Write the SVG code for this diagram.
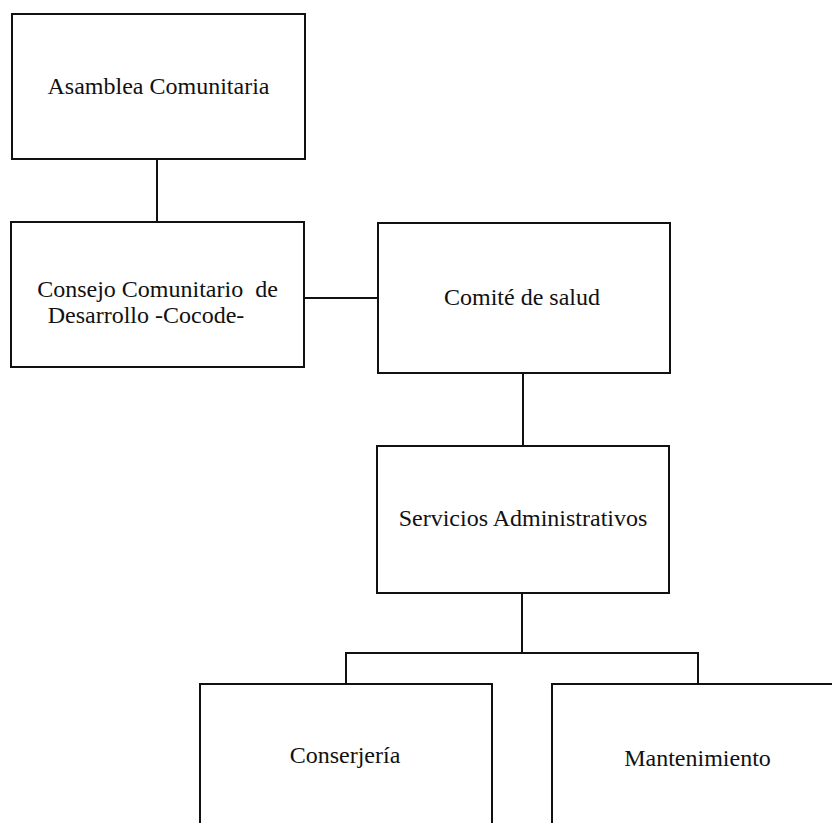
<svg xmlns="http://www.w3.org/2000/svg" width="832" height="823" viewBox="0 0 832 823">
<style>
.box{fill:#fff;stroke:#111;stroke-width:2}
.ln{fill:none;stroke:#111;stroke-width:2}
text{font-family:"Liberation Serif","Times New Roman",serif;font-size:24px;fill:#111;text-anchor:middle}
</style>
<rect width="832" height="823" fill="#fff"/>
<g id="connectors">
<line class="ln" x1="157" y1="159" x2="157" y2="222"/>
<line class="ln" x1="304" y1="298" x2="378" y2="298"/>
<line class="ln" x1="523" y1="373" x2="523" y2="446"/>
<line class="ln" x1="522" y1="593" x2="522" y2="653"/>
<polyline class="ln" points="346,684 346,653 698,653 698,684"/>
</g>
<g id="asamblea">
<rect class="box" x="12" y="14" width="293" height="145"/>
<text x="158.5" y="94">Asamblea Comunitaria</text>
</g>
<g id="cocode">
<rect class="box" x="11" y="222" width="293" height="145"/>
<text x="157.5" y="297" xml:space="preserve">Consejo Comunitario  de</text>
<text x="146" y="323">Desarrollo -Cocode-</text>
</g>
<g id="comite">
<rect class="box" x="378" y="223" width="292" height="150"/>
<text x="522" y="305">Comité de salud</text>
</g>
<g id="servicios">
<rect class="box" x="377" y="446" width="292" height="147"/>
<text x="523" y="526">Servicios Administrativos</text>
</g>
<g id="conserjeria">
<rect class="box" x="200" y="684" width="292" height="160"/>
<text x="345" y="763">Conserjería</text>
</g>
<g id="mantenimiento">
<rect class="box" x="552" y="684" width="300" height="160"/>
<text x="697.5" y="766">Mantenimiento</text>
</g>
</svg>
